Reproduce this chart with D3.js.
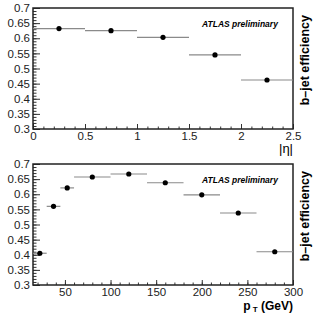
<!DOCTYPE html>
<html>
<head>
<meta charset="utf-8">
<script src="https://cdn.jsdelivr.net/npm/d3@7"></script>
<style>
  body { margin: 0; background: #fff; }
  svg { font-family: "Liberation Sans", Arial, sans-serif; }
</style>
</head>
<body>
<svg></svg>
<script>
var width = 327;
var height = 314;

// |eta| bins
var etaLow = [0, 0.5, 1, 1.5, 2];
var etaHigh = [0.5, 1, 1.5, 2, 2.5];
var etaEff = [0.632, 0.625, 0.603, 0.545, 0.462];

// pT bins (GeV)
var ptLow = [15, 30, 45, 60, 100, 140, 180, 220, 260];
var ptHigh = [30, 45, 60, 100, 140, 180, 220, 260, 300];
var ptEff = [0.405, 0.560, 0.621, 0.657, 0.667, 0.638, 0.598, 0.538, 0.410];

var yTicks = [0.3, 0.35, 0.4, 0.45, 0.5, 0.55, 0.6, 0.65, 0.7];

var svg = d3.select("svg")
            .attr("width", width)
            .attr("height", height);

function drawPanel(top, bottom, xDomain, xMajor, xMinor, xFmt, lows, highs, effs) {
    var left = 33, right = 293;

    var xscale = d3.scaleLinear().domain(xDomain).range([left, right]);
    var yscale = d3.scaleLinear().domain([0.3, 0.7]).range([bottom, top]);

    var g = svg.append("g");

    // minor ticks
    g.append("g")
        .attr("transform", "translate(" + left + ",0)")
        .call(d3.axisLeft(yscale).tickValues(d3.range(30, 71).map(function(d){ return d / 100; }))
              .tickSize(-3.5).tickFormat(""))
        .call(function(a){ a.select(".domain").remove(); });
    g.append("g")
        .attr("transform", "translate(0," + bottom + ")")
        .call(d3.axisBottom(xscale).tickValues(xMinor).tickSize(-2.5).tickFormat(""))
        .call(function(a){ a.select(".domain").remove(); });

    // major ticks + labels
    g.append("g")
        .attr("transform", "translate(" + left + ",0)")
        .call(d3.axisLeft(yscale).tickValues(yTicks).tickSize(-7).tickPadding(3)
              .tickFormat(function(d){ return String(+d.toFixed(2)); }))
        .call(function(a){ a.select(".domain").remove(); });
    g.append("g")
        .attr("transform", "translate(0," + bottom + ")")
        .call(d3.axisBottom(xscale).tickValues(xMajor).tickSize(-5).tickPadding(3).tickFormat(xFmt))
        .call(function(a){ a.select(".domain").remove(); });

    g.selectAll(".tick line").attr("stroke", "#333");
    g.selectAll(".tick text")
        .attr("font-size", 11.5)
        .attr("fill", "#222")
        .attr("font-family", "Liberation Sans, Arial, sans-serif");

    // frame
    g.append("rect")
        .attr("x", left).attr("y", top)
        .attr("width", right - left).attr("height", bottom - top)
        .attr("fill", "none").attr("stroke", "#222").attr("stroke-width", 1.5);

    // horizontal error bars (bin widths)
    g.selectAll("line.err")
        .data(effs)
        .enter().append("line")
        .attr("class", "err")
        .attr("x1", function(d, i){ return xscale(lows[i]); })
        .attr("x2", function(d, i){ return xscale(highs[i]); })
        .attr("y1", function(d){ return yscale(d); })
        .attr("y2", function(d){ return yscale(d); })
        .attr("stroke", "#8a8a8a")
        .attr("stroke-width", 1.2);

    // markers
    g.selectAll("circle")
        .data(effs)
        .enter().append("circle")
        .attr("cx", function(d, i){ return xscale((lows[i] + highs[i]) / 2); })
        .attr("cy", function(d){ return yscale(d); })
        .attr("r", 2.6)
        .attr("fill", "#000");

    // ATLAS label
    g.append("text")
        .attr("x", 202).attr("y", top + 19)
        .attr("font-size", 8.5)
        .attr("font-weight", "bold")
        .attr("font-style", "italic")
        .text("ATLAS preliminary");

    // y title on the right
    g.append("text")
        .attr("transform", "translate(309," + (top + 7) + ") rotate(-90)")
        .attr("text-anchor", "end")
        .attr("font-size", 12.5)
        .attr("font-weight", "bold")
        .text("b\u2013jet efficiency");

    return g;
}

var top1 = drawPanel(8, 129, [0, 2.5], [0, 0.5, 1, 1.5, 2, 2.5],
    d3.range(0, 26).map(function(d){ return d / 10; }),
    function(d){ return String(d); },
    etaLow, etaHigh, etaEff);

top1.append("text")
    .attr("x", 293).attr("y", 153)
    .attr("text-anchor", "end")
    .attr("font-size", 13)
    .text("|\u03b7|");

var bot = drawPanel(164, 285, [15, 300], [50, 100, 150, 200, 250, 300],
    d3.range(20, 301, 10),
    function(d){ return String(d); },
    ptLow, ptHigh, ptEff);

var pt = bot.append("text")
    .attr("x", 293).attr("y", 310)
    .attr("text-anchor", "end")
    .attr("font-size", 12)
    .attr("font-weight", "bold");
pt.append("tspan").text("p");
pt.append("tspan").attr("font-size", 8).attr("dy", 2).text(" T");
pt.append("tspan").attr("dy", -2).text(" (GeV)");
</script>
</body>
</html>
